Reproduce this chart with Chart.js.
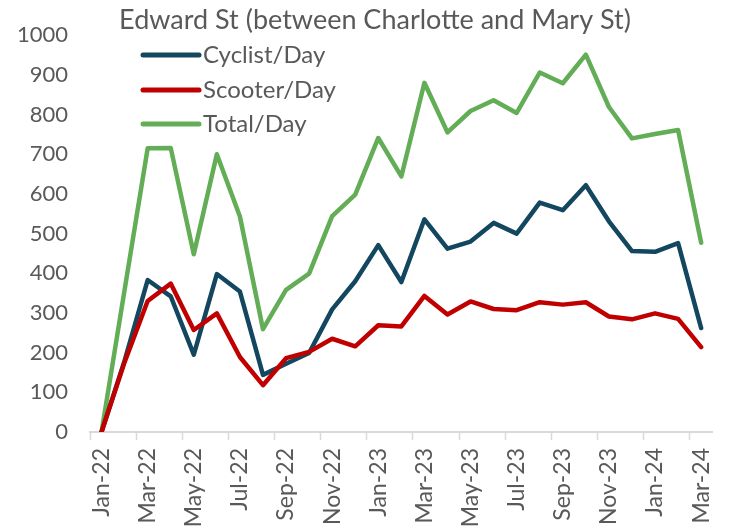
<!DOCTYPE html>
<html>
<head>
<meta charset="utf-8">
<script src="https://cdn.jsdelivr.net/npm/chart.js@4.4.0/dist/chart.umd.min.js"></script>
<style>
  html, body { margin: 0; padding: 0; background: #fff; }
  #wrap { width: 737px; height: 527px; position: relative; }
</style>
</head>
<body>
<div id="wrap"><canvas id="c" width="737" height="527"></canvas></div>
<script>
const chartTitle = "Edward St (between Charlotte and Mary St)";
const months = ["Jan-22","Feb-22","Mar-22","Apr-22","May-22","Jun-22","Jul-22","Aug-22","Sep-22","Oct-22","Nov-22","Dec-22",
                "Jan-23","Feb-23","Mar-23","Apr-23","May-23","Jun-23","Jul-23","Aug-23","Sep-23","Oct-23","Nov-23","Dec-23",
                "Jan-24","Feb-24","Mar-24"];
const cyclistPerDay = [0,180,383,342,195,398,354,144,172,199,309,380,471,378,536,462,480,527,500,578,559,622,531,456,454,476,262];
const scooterPerDay = [0,176,330,374,257,299,189,118,186,202,235,216,269,266,343,296,329,310,307,327,321,327,291,284,299,285,214];
const totalPerDay   = [0,358,715,716,448,700,543,259,358,399,544,598,741,644,880,755,809,836,804,906,879,951,819,740,751,761,477];
const yTicks = [0,100,200,300,400,500,600,700,800,900,1000];
const seriesNames = ["Cyclist/Day","Scooter/Day","Total/Day"];
const seriesColors = ["#13475F","#C00000","#62AD55"];

const FONT = "Lato, 'Open Sans', sans-serif";
const TEXT = "#595959";

const titlePlugin = {
  id: 'customTitle',
  afterDraw(chart) {
    const ctx = chart.ctx;
    ctx.save();
    ctx.font = "27px " + FONT;
    ctx.fillStyle = TEXT;
    ctx.textAlign = 'center';
    ctx.textBaseline = 'middle';
    ctx.fillText(chartTitle, 375, 20);
    ctx.restore();
  }
};

const legendPlugin = {
  id: 'insideLegend',
  afterDraw(chart) {
    const ctx = chart.ctx;
    const x0 = 143, x1 = 199, rows = [55, 90, 124];
    ctx.save();
    chart.data.datasets.forEach((ds, i) => {
      const y = rows[i];
      ctx.strokeStyle = ds.borderColor;
      ctx.lineWidth = 5;
      ctx.lineCap = 'round';
      ctx.beginPath();
      ctx.moveTo(x0, y);
      ctx.lineTo(x1, y);
      ctx.stroke();
      ctx.font = "24px " + FONT;
      ctx.fillStyle = TEXT;
      ctx.textAlign = 'left';
      ctx.textBaseline = 'middle';
      ctx.fillText(ds.label, x1 + 4, y);
    });
    ctx.restore();
  }
};

const datasets = [cyclistPerDay, scooterPerDay, totalPerDay].map((d, i) => ({
  label: seriesNames[i],
  data: d,
  borderColor: seriesColors[i],
  backgroundColor: seriesColors[i],
  borderWidth: 4.5,
  pointRadius: 0,
  pointHoverRadius: 0,
  tension: 0,
  fill: false,
  borderJoinStyle: 'round',
  borderCapStyle: 'round'
}));
datasets[0].order = 1; datasets[1].order = 0; datasets[2].order = 2;

new Chart(document.getElementById('c'), {
  type: 'line',
  data: { labels: months, datasets: datasets },
  options: {
    responsive: false,
    animation: false,
    layout: { padding: { top: 34, right: 13, bottom: 0, left: 0 } },
    plugins: {
      legend: { display: false },
      title: { display: false },
      tooltip: { enabled: false }
    },
    scales: {
      x: {
        type: 'category',
        offset: true,
        grid: {
          offset: true,
          drawOnChartArea: false,
          drawTicks: true,
          tickLength: 8,
          tickWidth: 1.5,
          color: (ctx) => (ctx.index % 2 === 0 ? '#D9D9D9' : 'rgba(0,0,0,0)')
        },
        border: { display: true, color: '#D9D9D9', width: 2 },
        ticks: {
          autoSkip: false,
          maxRotation: 90,
          minRotation: 90,
          padding: 8,
          color: TEXT,
          font: { family: FONT, size: 23 },
          callback: function(val, idx) { return idx % 2 === 0 ? this.getLabelForValue(val) : ''; }
        },
        afterFit(scale) { scale.height = 95; }
      },
      y: {
        min: 0,
        max: 1000,
        afterBuildTicks(scale) { scale.ticks = yTicks.map(v => ({ value: v })); },
        grid: { display: false, drawTicks: false },
        border: { display: false },
        ticks: {
          padding: 22,
          color: TEXT,
          font: { family: FONT, size: 22 },
          callback: (v) => String(v)
        },
        afterFit(scale) { scale.width = 90; }
      }
    }
  },
  plugins: [titlePlugin, legendPlugin]
});
</script>
</body>
</html>
